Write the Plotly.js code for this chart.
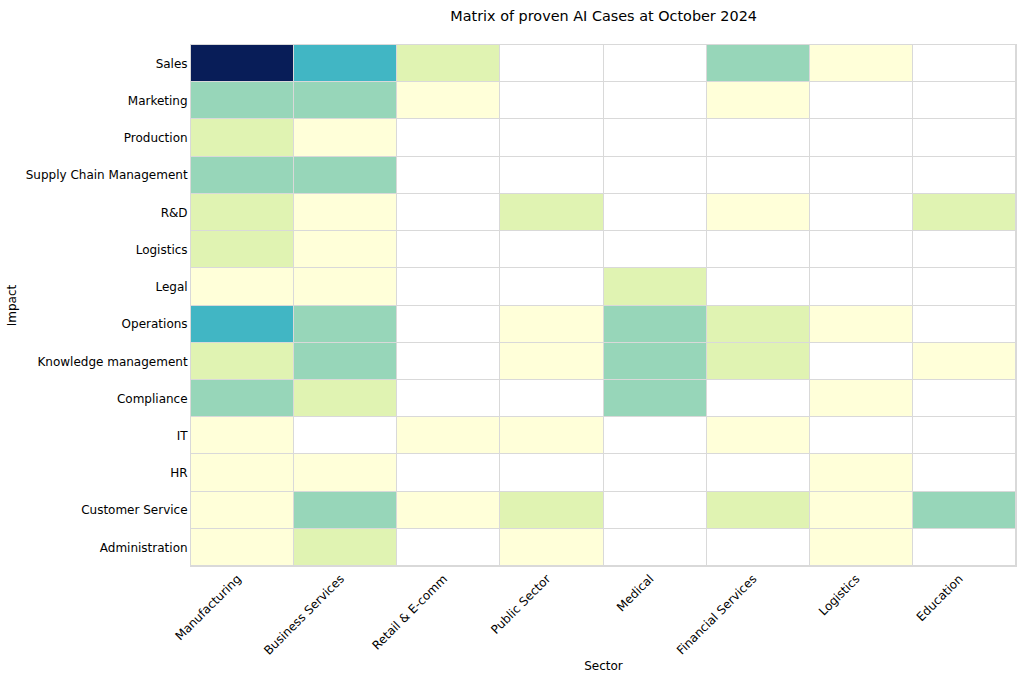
<!DOCTYPE html>
<html>
<head>
<meta charset="utf-8">
<script src="https://cdn.plot.ly/plotly-3.0.1.min.js"></script>
<style>html,body{margin:0;padding:0;background:#fff;}#chart{width:1024px;height:680px;}</style>
</head>
<body>
<div id="chart"></div>
<script>
const sectors = ["Manufacturing", "Business Services", "Retail & E-comm", "Public Sector", "Medical", "Financial Services", "Logistics", "Education"];
const impacts = ["Sales", "Marketing", "Production", "Supply Chain Management", "R&D", "Logistics", "Legal", "Operations", "Knowledge management", "Compliance", "IT", "HR", "Customer Service", "Administration"];
const counts = [
  [7, 4, 2, 0, 0, 3, 1, 0],
  [3, 3, 1, 0, 0, 1, 0, 0],
  [2, 1, 0, 0, 0, 0, 0, 0],
  [3, 3, 0, 0, 0, 0, 0, 0],
  [2, 1, 0, 2, 0, 1, 0, 2],
  [2, 1, 0, 0, 0, 0, 0, 0],
  [1, 1, 0, 0, 2, 0, 0, 0],
  [4, 3, 0, 1, 3, 2, 1, 0],
  [2, 3, 0, 1, 3, 2, 0, 1],
  [3, 2, 0, 0, 3, 0, 1, 0],
  [1, 0, 1, 1, 0, 1, 0, 0],
  [1, 1, 0, 0, 0, 0, 1, 0],
  [1, 3, 1, 2, 0, 2, 1, 3],
  [1, 2, 0, 1, 0, 0, 1, 0]
];

// YlGnBu mapped onto values 1..7, with 0 drawn white
const ylgnbu = ["#ffffd9", "#edf8b1", "#c7e9b4", "#7fcdbb", "#41b6c4", "#1d91c0", "#225ea8", "#253494", "#081d58"];
const zmax = 7, zminNZ = 1;
const colorscale = [[0, "#ffffff"], [(zminNZ - 0.5) / zmax, "#ffffff"]];
ylgnbu.forEach((c, i) => {
  const p = i / (ylgnbu.length - 1);
  colorscale.push([(zminNZ + p * (zmax - zminNZ)) / zmax, c]);
});

const trace = {
  type: "heatmap",
  x: sectors,
  y: impacts,
  z: counts,
  zmin: 0,
  zmax: zmax,
  colorscale: colorscale,
  showscale: false,
  xgap: 1,
  ygap: 1,
  hoverongaps: false
};

const font = {family: "DejaVu Sans, sans-serif", size: 12, color: "#000"};
const layout = {
  width: 1024, height: 680,
  margin: {l: 191, r: 8, t: 45, b: 114},
  paper_bgcolor: "#ffffff",
  plot_bgcolor: "#d9d9d9",
  font: font,
  title: {text: "Matrix of proven AI Cases at October 2024", font: {family: "DejaVu Sans, sans-serif", size: 14.4, color: "#000"}, x: 0.5895, xanchor: "center", y: 0.977, yanchor: "middle"},
  xaxis: {
    type: "category", tickangle: -45, ticks: "", showgrid: false, zeroline: false,
    showline: true, mirror: true, linecolor: "#d9d9d9", linewidth: 1,
    tickfont: font, ticklabelshift: -5,
    title: {text: "Sector", font: font, standoff: 4}
  },
  yaxis: {
    type: "category", autorange: "reversed", ticks: "", showgrid: false, zeroline: false,
    showline: true, mirror: true, linecolor: "#d9d9d9", linewidth: 1,
    tickfont: font, ticklabelstandoff: 0,
    title: {text: "Impact", font: font, standoff: 6}
  }
};

Plotly.newPlot("chart", [trace], layout, {displayModeBar: false, staticPlot: true});
</script>
</body>
</html>
